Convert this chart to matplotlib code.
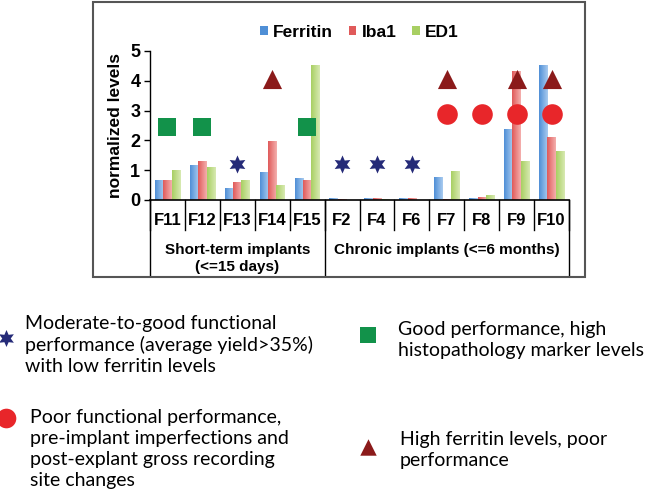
import numpy as np
import matplotlib.pyplot as plt
from matplotlib.patches import Rectangle
from matplotlib.lines import Line2D

plt.rcParams['font.family'] = ['Liberation Sans', 'DejaVu Sans']

labels = ["F11", "F12", "F13", "F14", "F15", "F2", "F4", "F6", "F7", "F8", "F9", "F10"]
ferritin = [0.65, 1.17, 0.40, 0.93, 0.73, 0.05, 0.04, 0.05, 0.75, 0.06, 2.35, 4.50]
iba1 = [0.67, 1.28, 0.58, 1.95, 0.65, 0.02, 0.04, 0.06, 0.02, 0.09, 4.30, 2.09]
ed1 = [1.00, 1.08, 0.67, 0.48, 4.53, 0.00, 0.01, 0.00, 0.97, 0.16, 1.28, 1.62]
groups = ["Short-term implants\n(<=15 days)", "Chronic implants (<=6 months)"]
group_sizes = [5, 7]

# annotation markers: category -> level
stars = {"F13": 1.2, "F2": 1.2, "F4": 1.2, "F6": 1.2}
squares = {"F11": 2.45, "F12": 2.45, "F15": 2.45}
circles = {"F7": 2.9, "F8": 2.9, "F9": 2.9, "F10": 2.9}
triangles = {"F14": 4.05, "F7": 4.05, "F9": 4.05, "F10": 4.05}

W, H = 649, 497
fig = plt.figure(figsize=(W / 100, H / 100), dpi=100)
fig.patch.set_facecolor("white")

# outer frame around the chart
fig.patches.append(Rectangle((93 / W, 1 - 277 / H), 492 / W, 275 / H, transform=fig.transFigure,
                             fill=False, edgecolor="#555555", linewidth=1.5))

ax = fig.add_axes([150 / W, 1 - 200 / H, 419 / W, 149 / H])
x = np.arange(len(labels))
bw = 0.24
series = [(ferritin, "#4f8fd6", "#a9cbf0", "Ferritin"),
          (iba1, "#e05a5a", "#f4b0ae", "Iba1"),
          (ed1, "#a8cf63", "#d8eab2", "ED1")]
grad = np.linspace(0, 1, 50).reshape(1, -1)
for i, (vals, dark, light, name) in enumerate(series):
    bars = ax.bar(x + (i - 1) * bw, vals, bw, color=dark, label=name, linewidth=0)
    cmap = plt.matplotlib.colors.LinearSegmentedColormap.from_list(name, [dark, light])
    for b in bars:
        if b.get_height() <= 0:
            continue
        ax.imshow(grad, cmap=cmap, aspect="auto", zorder=2,
                  extent=[b.get_x(), b.get_x() + b.get_width(), 0, b.get_height()])

def put(d, **kw):
    xs = [labels.index(k) for k in d]
    ax.scatter(xs, list(d.values()), zorder=5, clip_on=False, linewidths=0, **kw)

put(stars, marker=(6, 1, 0), s=170, color="#252b78")
put(squares, marker="s", s=170, color="#12924a")
put(circles, marker="o", s=220, color="#e8262a")
put(triangles, marker="^", s=190, color="#8b1a1a")

ax.set_xlim(-0.5, len(labels) - 0.5)
ax.set_ylim(0, 5)
ax.set_yticks(range(6))
ax.tick_params(axis="y", labelsize=13, length=4, width=1, pad=3)
for t in ax.get_yticklabels():
    t.set_fontweight("bold")
ax.set_xticks([])
for s in ["top", "right"]:
    ax.spines[s].set_visible(False)
ax.spines["left"].set_linewidth(1)
ax.spines["bottom"].set_linewidth(1.2)
ax.set_ylabel("normalized levels", fontsize=12.5, fontweight="bold", labelpad=5)

# category labels and separators under the axis
tr = ax.get_xaxis_transform()
for i, lab in enumerate(labels):
    ax.text(i, -0.14, lab, transform=tr, ha="center", va="center", fontsize=12, fontweight="bold")
for i in range(len(labels) + 1):
    ax.add_line(Line2D([i - 0.5, i - 0.5], [0, -0.2], transform=tr, color="black", lw=1, clip_on=False))
edges = np.concatenate([[0], np.cumsum(group_sizes)])
for e in edges:
    ax.add_line(Line2D([e - 0.5, e - 0.5], [0, -0.5], transform=tr, color="black", lw=1, clip_on=False))
for g, a, b in zip(groups, edges[:-1], edges[1:]):
    ax.text((a + b - 1) / 2, -0.29, g, transform=tr, ha="center", va="top", fontsize=11,
            fontweight="bold", linespacing=1.25)

ax.legend(loc="upper center", bbox_to_anchor=(0.5, 1.28), ncol=3, frameon=False,
          prop={"weight": "bold", "size": 12.5}, handlelength=0.45, handleheight=0.45,
          handletextpad=0.3, columnspacing=0.9)

# key below the chart
kf = {"fontsize": 14, "family": ["Lato", "DejaVu Sans"], "va": "center", "linespacing": 1.3}
fig.text(25 / W, 1 - 345 / H, "Moderate-to-good functional\nperformance (average yield>35%)\nwith low ferritin levels", **kf)
fig.text(30 / W, 1 - 449 / H, "Poor functional performance,\npre-implant imperfections and\npost-explant gross recording\nsite changes", **kf)
fig.text(398 / W, 1 - 340 / H, "Good performance, high\nhistopathology marker levels", **kf)
fig.text(400 / W, 1 - 450 / H, "High ferritin levels, poor\nperformance", **kf)
key = fig.add_axes([0, 0, 1, 1], facecolor="none")
key.set_xlim(0, W)
key.set_ylim(H, 0)
key.axis("off")
key.scatter([6], [338], marker=(6, 1, 0), s=150, color="#252b78", linewidths=0)
key.scatter([6], [418], marker="o", s=200, color="#e8262a", linewidths=0)
key.scatter([368], [335], marker="s", s=120, color="#12924a", linewidths=0)
key.scatter([368], [447], marker="^", s=140, color="#8b1a1a", linewidths=0)

fig.savefig("out.png", dpi=100)
